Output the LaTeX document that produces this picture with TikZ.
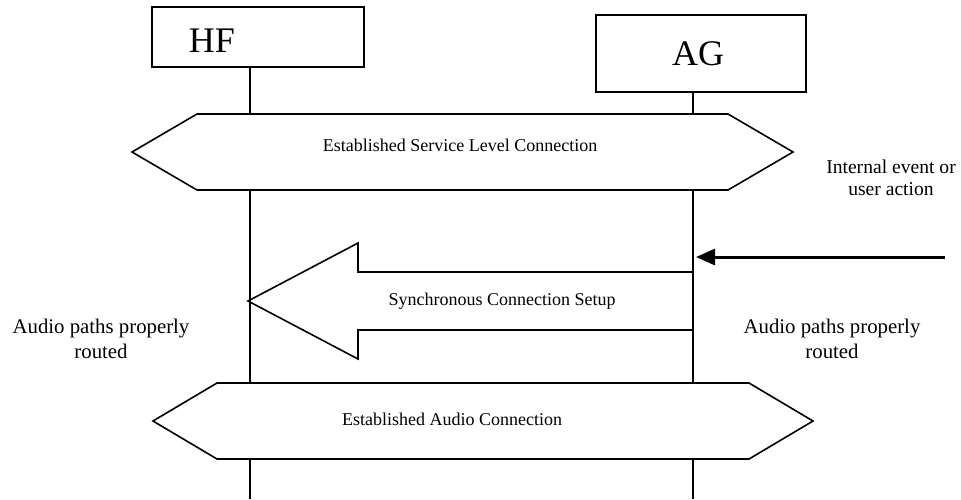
\documentclass[tikz,border=0pt]{standalone}
\usepackage{fontspec}
\setmainfont{Liberation Serif}
\usetikzlibrary{arrows.meta}

\begin{document}
\begin{tikzpicture}[x=0.5pt,y=-0.5pt,
  entity/.style={draw,line width=0.6pt,inner sep=0pt},
  lifeline/.style={line width=1.1pt},
  hexa/.style={draw,fill=white,line width=0.8pt,line join=miter},
  msg/.style={font=\fontsize{9}{11}\selectfont},
  note/.style={align=center,font=\fontsize{10.4}{12.5}\selectfont}]
\useasboundingbox (0,0) rectangle (961,499);
% the two entities
\node[entity,minimum width=106pt,minimum height=30pt] (hfbox) at (258,37) {};
\node[font=\fontsize{18}{20}\selectfont] (hf) at (212,41) {HF};
\node[entity,minimum width=105pt,minimum height=38.5pt] (agbox) at (701,53.5) {};
\node[font=\fontsize{18}{20}\selectfont] (ag) at (698,54) {AG};
\coordinate (hfend) at (250,499); \coordinate (agend) at (693,499);
\draw[lifeline] (hfbox.south -| hfend) -- (hfend);
\draw[lifeline] (agbox.south -| agend) -- (agend);
% service level connection
\draw[hexa] (132,152) -- (197,114) -- (728,114) -- (793,152) -- (728,190) -- (197,190) -- cycle;
\node[msg] (slc) at (460,145) {Established Service Level Connection};
% trigger
\node[align=center,font=\fontsize{9.8}{11}\selectfont] (ev) at (891,178) {Internal event or\\user action};
\coordinate (evstart) at (945,257); \coordinate (evend) at (696,257);
\draw[line width=1.5pt,-{Triangle[length=9.5pt,width=8pt]}] (evstart) -- (evend);
% synchronous connection setup
\draw[hexa,fill=none] (693,272) -- (358,272) -- (358,243) -- (248,301) -- (358,359) -- (358,330) -- (693,330);
\node[msg] (scs) at (502,301) {Synchronous Connection Setup};
\node[note] (hfnote) at (101,339) {Audio paths properly\\routed};
\node[note] (agnote) at (832,339) {Audio paths properly\\routed};
% audio connection
\draw[hexa] (153,421) -- (217,383) -- (749,383) -- (813,421) -- (749,459) -- (217,459) -- cycle;
\node[msg] (eac) at (452,419) {Established Audio Connection};
\end{tikzpicture}
\end{document}
